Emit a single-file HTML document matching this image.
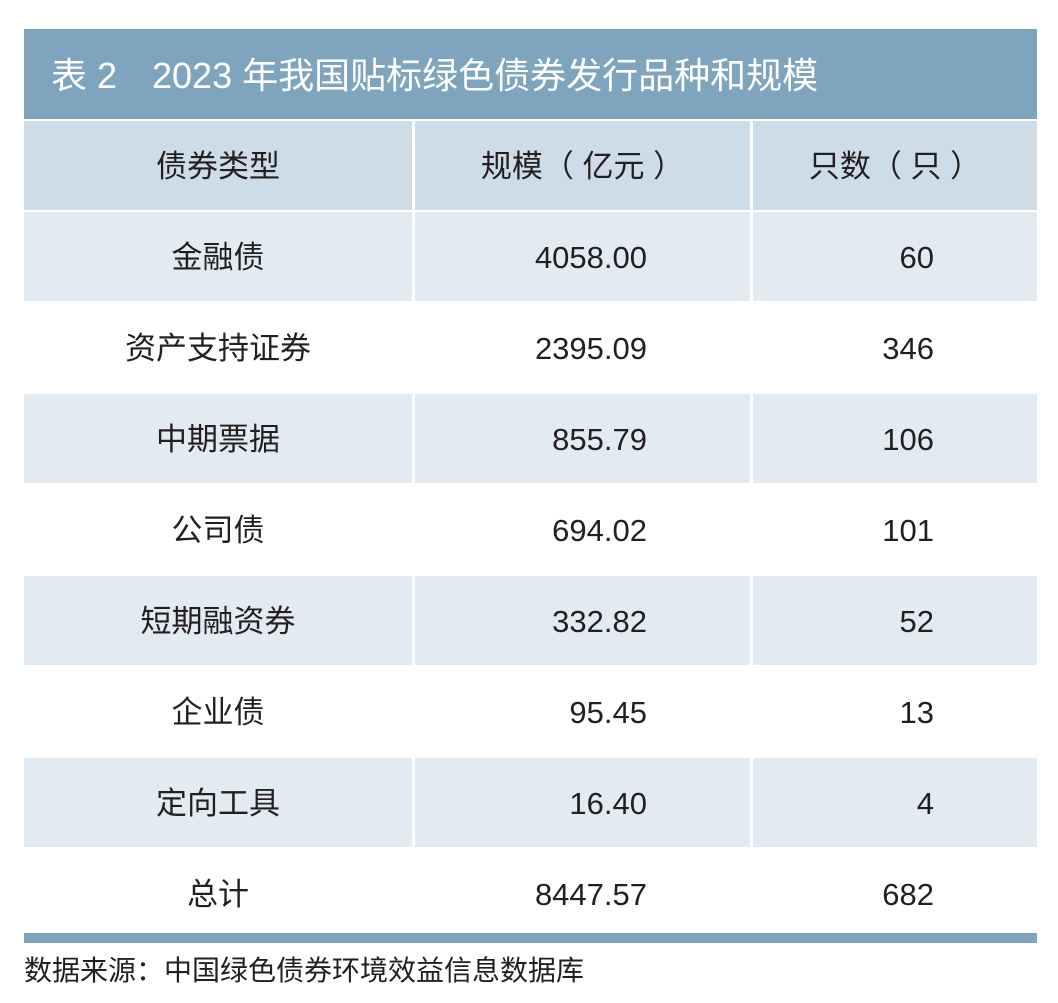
<!DOCTYPE html>
<html><head><meta charset="utf-8"><style>
body{margin:0;width:1058px;height:1003px;background:#fff;position:relative;font-family:"Liberation Sans","Noto Sans CJK SC",sans-serif;color:#231f20;overflow:hidden}
.t{position:absolute;left:24px;top:29px;width:1013px;height:90px;background:#7fa4bd;color:#fff;font-size:36px;line-height:90px}
.t span{position:absolute;top:2px}
.r{position:absolute;left:24px;width:1013px;height:89px;font-size:31px;line-height:91px}
.c{position:absolute;top:0;height:89px}
.c1{left:0;width:388px;text-align:center}
.c2{left:391px;width:335px}
.c3{left:729px;width:284px}
.s .c{background:#e3ebf2}
.h .c{background:#cddce7;text-align:center;font-size:31px}
.n2{text-align:right;box-sizing:border-box;padding-right:103px}
.n3{text-align:right;box-sizing:border-box;padding-right:103px}
.bar{position:absolute;left:24px;top:933px;width:1013px;height:10px;background:#7fa4bd}
.src{position:absolute;left:24px;top:953px;font-size:28px;line-height:36px}
</style></head><body>
<div class="t"><span style="left:27px">表 2</span><span style="left:128px">2023 年我国贴标绿色债券发行品种和规模</span></div>
<div class="r h" style="top:121px"><div class="c c1">债券类型</div><div class="c c2">规模（ 亿元 ）</div><div class="c c3">只数（ 只 ）</div></div>
<div class="r s" style="top:212px"><div class="c c1">金融债</div><div class="c c2 n2">4058.00</div><div class="c c3 n3">60</div></div>
<div class="r" style="top:303px"><div class="c c1">资产支持证券</div><div class="c c2 n2">2395.09</div><div class="c c3 n3">346</div></div>
<div class="r s" style="top:394px"><div class="c c1">中期票据</div><div class="c c2 n2">855.79</div><div class="c c3 n3">106</div></div>
<div class="r" style="top:485px"><div class="c c1">公司债</div><div class="c c2 n2">694.02</div><div class="c c3 n3">101</div></div>
<div class="r s" style="top:576px"><div class="c c1">短期融资券</div><div class="c c2 n2">332.82</div><div class="c c3 n3">52</div></div>
<div class="r" style="top:667px"><div class="c c1">企业债</div><div class="c c2 n2">95.45</div><div class="c c3 n3">13</div></div>
<div class="r s" style="top:758px"><div class="c c1">定向工具</div><div class="c c2 n2">16.40</div><div class="c c3 n3">4</div></div>
<div class="r" style="top:849px"><div class="c c1">总计</div><div class="c c2 n2">8447.57</div><div class="c c3 n3">682</div></div>
<div class="bar"></div>
<div class="src">数据来源：中国绿色债券环境效益信息数据库</div>
</body></html>
